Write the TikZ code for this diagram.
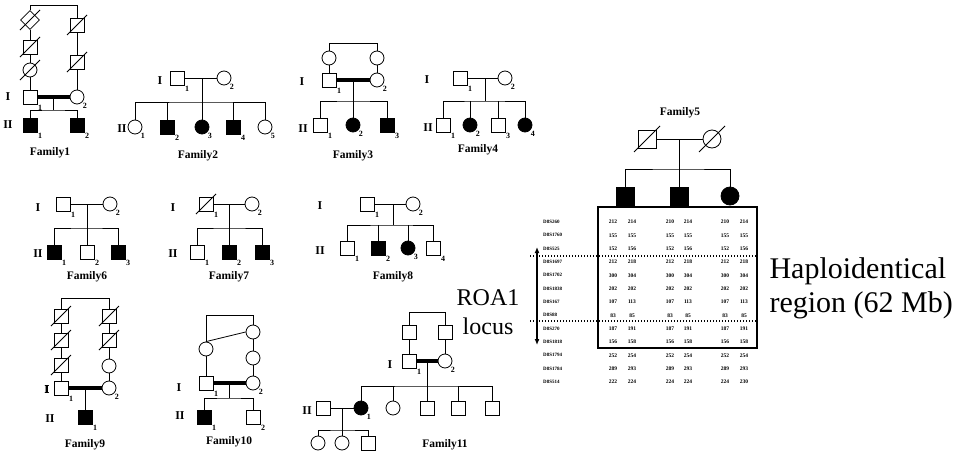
\documentclass[tikz,border=0pt]{standalone}
\usepackage{fontspec}
\setmainfont{Liberation Serif}
\usetikzlibrary{arrows.meta, shapes.geometric}

\newcommand\deadmark[2]{\draw[link] ([shift={(-#2,#2)}]#1.center) -- ([shift={(#2,-#2)}]#1.center);}

\begin{document}
\begin{tikzpicture}[
    x=1pt, y=-1pt,
    every node/.style={font=\bfseries\fontsize{12}{14}\selectfont},
    male/.style={rectangle, draw, minimum size=14pt, inner sep=0pt, line width=0.8pt},
    female/.style={circle, draw, minimum size=14pt, inner sep=0pt, line width=0.8pt},
    unkn/.style={diamond, draw, minimum size=19pt, inner sep=0pt, line width=0.8pt},
    big/.style={minimum size=18pt},
    aff/.style={fill=black},
    num/.style={label={[numlab]-45:#1}},
    numlab/.style={font=\bfseries\fontsize{8}{9}\selectfont, inner sep=0.5pt},
    gen/.style={font=\bfseries\fontsize{12}{14}\selectfont},
    fam/.style={font=\bfseries\fontsize{11.5}{13}\selectfont},
    link/.style={line width=0.8pt},
    consang/.style={line width=4pt},
    mk/.style={font=\bfseries\fontsize{5}{6}\selectfont, anchor=west, inner sep=0pt},
    al/.style={font=\bfseries\fontsize{5.5}{6}\selectfont, inner sep=0pt},
    note/.style={font=\fontsize{24}{29}\selectfont, align=center},
]
\useasboundingbox (0,0) rectangle (964,455);

% Family1
\node[unkn] (f1u1) at (30,20) {};
\node[male] (f1u2) at (30,47) {};
\node[female] (f1u3) at (30,70) {};
\node[male, num=1] (f1a) at (30,97) {};
\node[male] (f1v1) at (77,25) {};
\node[male] (f1v2) at (77,62) {};
\node[female, num=2] (f1b) at (77,97) {};
\node[male, aff, num=1] (f1c1) at (30,125) {};
\node[male, aff, num=2] (f1c2) at (77,125) {};
\coordinate (f1tl) at (30,5);
\coordinate (f1tr) at (77,5);
\coordinate (f1m) at (53,97);
\coordinate (f1s) at (53,110);
\draw[link] (f1u1) -- (f1tl) -- (f1tr) -- (f1v1);
\draw[link] (f1u1) -- (f1u2) -- (f1u3) -- (f1a);
\draw[link] (f1v1) -- (f1v2) -- (f1b);
\draw[consang] (f1a) -- (f1b);
\draw[link] (f1m) -- (f1s);
\draw[link] (f1c1) |- (f1s) -| (f1c2);
\deadmark{f1u1}{10}
\deadmark{f1u2}{10}
\deadmark{f1u3}{10}
\deadmark{f1v1}{10}
\deadmark{f1v2}{10}
\node[gen] (f1g1) at (8,97) {I};
\node[gen] (f1g2) at (8,125) {II};
\node[fam] (f1lab) at (50,153) {Family1};

% Family2
\node[male, num=1] (f2a) at (177,78) {};
\node[female, num=2] (f2b) at (224,78) {};
\node[female, num=1] (f2c1) at (135,127) {};
\node[male, aff, num=2] (f2c2) at (167,127) {};
\node[female, aff, num=3] (f2c3) at (202,127) {};
\node[male, aff, num=4] (f2c4) at (233,127) {};
\node[female, num=5] (f2c5) at (265,127) {};
\coordinate (f2m) at (202,78);
\coordinate (f2s) at (202,102);
\draw[link] (f2a) -- (f2b);
\draw[link] (f2m) -- (f2s);
\draw[link] (f2c1) |- (f2s) -| (f2c5);
\foreach \k in {2,3,4} \draw[link] (f2c\k) -- (f2c\k |- f2s);
\node[gen] (f2g1) at (160,81) {I};
\node[gen] (f2g2) at (122,129) {II};
\node[fam] (f2lab) at (198,156) {Family2};

% Family3
\node[female] (f3u) at (329,58) {};
\node[female] (f3v) at (377,58) {};
\node[male, num=1] (f3a) at (329,80) {};
\node[female, num=2] (f3b) at (377,80) {};
\node[male, num=1] (f3c1) at (320,125) {};
\node[female, aff, num=2] (f3c2) at (353,125) {};
\node[male, aff, num=3] (f3c3) at (387,125) {};
\coordinate (f3tl) at (329,43);
\coordinate (f3tr) at (377,43);
\coordinate (f3m) at (353,80);
\coordinate (f3s) at (353,101);
\draw[link] (f3u) -- (f3tl) -- (f3tr) -- (f3v);
\draw[link] (f3u) -- (f3a);
\draw[link] (f3v) -- (f3b);
\draw[consang] (f3a) -- (f3b);
\draw[link] (f3m) -- (f3s);
\draw[link] (f3c1) |- (f3s) -| (f3c3);
\draw[link] (f3c2) -- (f3c2 |- f3s);
\node[gen] (f3g1) at (302,82) {I};
\node[gen] (f3g2) at (303,129) {II};
\node[fam] (f3lab) at (353,156) {Family3};

% Family4
\node[male, num=1] (f4a) at (460,78) {};
\node[female, num=2] (f4b) at (505,78) {};
\node[male, num=1] (f4c1) at (443,125) {};
\node[female, aff, num=2] (f4c2) at (470,125) {};
\node[male, num=3] (f4c3) at (498,125) {};
\node[female, aff, num=4] (f4c4) at (525,125) {};
\coordinate (f4m) at (485,78);
\coordinate (f4s) at (485,101);
\draw[link] (f4a) -- (f4b);
\draw[link] (f4m) -- (f4s);
\draw[link] (f4c1) |- (f4s) -| (f4c4);
\foreach \k in {2,3} \draw[link] (f4c\k) -- (f4c\k |- f4s);
\node[gen] (f4g1) at (427,80) {I};
\node[gen] (f4g2) at (428,128) {II};
\node[fam] (f4lab) at (478,150) {Family4};

% Family6
\node[male, num=1] (f6a) at (63,204) {};
\node[female, num=2] (f6b) at (110,204) {};
\node[male, aff, num=1] (f6c1) at (54,252) {};
\node[male, num=2] (f6c2) at (87,252) {};
\node[male, aff, num=3] (f6c3) at (118,252) {};
\coordinate (f6m) at (87,204);
\coordinate (f6s) at (87,228);
\draw[link] (f6a) -- (f6b);
\draw[link] (f6m) -- (f6c2);
\draw[link] (f6c1) |- (f6s) -| (f6c3);
\node[gen] (f6g1) at (38,208) {I};
\node[gen] (f6g2) at (38,254) {II};
\node[fam] (f6lab) at (87,277) {Family6};

% Family7
\node[male, num=1] (f7a) at (206,204) {};
\node[female, num=2] (f7b) at (252,204) {};
\node[male, num=1] (f7c1) at (197,252) {};
\node[male, aff, num=2] (f7c2) at (229,252) {};
\node[male, aff, num=3] (f7c3) at (262,252) {};
\coordinate (f7m) at (229,204);
\coordinate (f7s) at (229,228);
\draw[link] (f7a) -- (f7b);
\draw[link] (f7m) -- (f7c2);
\draw[link] (f7c1) |- (f7s) -| (f7c3);
\deadmark{f7a}{10}
\node[gen] (f7g1) at (173,208) {I};
\node[gen] (f7g2) at (173,254) {II};
\node[fam] (f7lab) at (229,277) {Family7};

% Family8
\node[male, num=1] (f8a) at (367,204) {};
\node[female, num=2] (f8b) at (413,204) {};
\node[male, num=1] (f8c1) at (347,248) {};
\node[male, aff, num=2] (f8c2) at (378,248) {};
\node[female, aff, num=3] (f8c3) at (408,248) {};
\node[male, num=4] (f8c4) at (433,248) {};
\coordinate (f8m) at (393,204);
\coordinate (f8s) at (393,225);
\draw[link] (f8a) -- (f8b);
\draw[link] (f8m) -- (f8s);
\draw[link] (f8c1) |- (f8s) -| (f8c4);
\foreach \k in {2,3} \draw[link] (f8c\k) -- (f8c\k |- f8s);
\node[gen] (f8g1) at (320,206) {I};
\node[gen] (f8g2) at (320,251) {II};
\node[fam] (f8lab) at (393,277) {Family8};

% Family9
\node[male] (f9u1) at (61,316) {};
\node[male] (f9u2) at (61,340) {};
\node[male] (f9u3) at (61,365) {};
\node[male, num=1] (f9a) at (61,388) {};
\node[male] (f9v1) at (109,316) {};
\node[male] (f9v2) at (109,340) {};
\node[female] (f9v3) at (109,366) {};
\node[female, num=2] (f9b) at (109,388) {};
\node[male, aff, num=1] (f9c1) at (85,417) {};
\coordinate (f9tl) at (61,298);
\coordinate (f9tr) at (109,298);
\coordinate (f9m) at (85,388);
\draw[link] (f9u1) -- (f9tl) -- (f9tr) -- (f9v1);
\draw[link] (f9u1) -- (f9u2) -- (f9u3) -- (f9a);
\draw[link] (f9v1) -- (f9v2) -- (f9v3) -- (f9b);
\draw[consang] (f9a) -- (f9b);
\draw[link] (f9m) -- (f9c1);
\foreach \k in {u1,u2,u3,v1,v2} \deadmark{f9\k}{10}
\node[gen] (f9g1) at (47,390) {I};
\node[gen] (f9g2) at (50,419) {II};
\node[fam] (f9lab) at (85,445) {Family9};

% Family10
\node[female] (f10u) at (206,349) {};
\node[female] (f10v1) at (253,332) {};
\node[female] (f10v2) at (253,358) {};
\node[male, num=1] (f10a) at (206,383) {};
\node[female, num=2] (f10b) at (253,383) {};
\node[male, aff, num=1] (f10c1) at (204,417) {};
\node[male, num=2] (f10c2) at (253,417) {};
\coordinate (f10tl) at (206,315);
\coordinate (f10tr) at (253,315);
\coordinate (f10m) at (229,383);
\coordinate (f10s) at (229,398);
\draw[link] (f10u) -- (f10tl) -- (f10tr) -- (f10v1);
\draw[link] (f10u.north) -- (f10v1.west);
\draw[link] (f10u) -- (f10a);
\draw[link] (f10v1) -- (f10v2) -- (f10b);
\draw[consang] (f10a) -- (f10b);
\draw[link] (f10m) -- (f10s);
\draw[link] (f10c1) |- (f10s) -| (f10c2);
\node[gen] (f10g1) at (179,388) {I};
\node[gen] (f10g2) at (180,416) {II};
\node[fam] (f10lab) at (229,442) {Family10};

% Family11
\node[male] (f11u) at (409,332) {};
\node[male] (f11v) at (445,332) {};
\node[male, num=1] (f11a) at (409,361) {};
\node[female, num=2] (f11b) at (445,361) {};
\node[female, aff, num=1] (f11c1) at (361,408) {};
\node[female] (f11c2) at (393,408) {};
\node[male] (f11c3) at (427,408) {};
\node[male] (f11c4) at (458,408) {};
\node[male] (f11c5) at (492,408) {};
\node[male] (f11p) at (323,408) {};
\node[female] (f11d1) at (318,443) {};
\node[female] (f11d2) at (342,443) {};
\node[male] (f11d3) at (368,443) {};
\coordinate (f11tl) at (409,312);
\coordinate (f11tr) at (445,312);
\coordinate (f11m) at (427,361);
\coordinate (f11s) at (427,386);
\coordinate (f11n) at (342,408);
\coordinate (f11t) at (342,430);
\draw[link] (f11u) -- (f11tl) -- (f11tr) -- (f11v);
\draw[link] (f11u) -- (f11a);
\draw[link] (f11v) -- (f11b);
\draw[consang] (f11a) -- (f11b);
\draw[link] (f11m) -- (f11c3);
\draw[link] (f11c1) |- (f11s) -| (f11c5);
\foreach \k in {2,4} \draw[link] (f11c\k) -- (f11c\k |- f11s);
\draw[link] (f11p) -- (f11c1);
\draw[link] (f11n) -- (f11d2);
\draw[link] (f11d1) |- (f11t) -| (f11d3);
\node[gen] (f11g1) at (390,365) {I};
\node[gen] (f11g2) at (307,411) {II};
\node[fam] (f11lab) at (445,445) {Family11};

% Family5 with haplotypes
\node[fam] (f5lab) at (680,113) {Family5};
\node[male, big] (f5a) at (647,139) {};
\node[female, big] (f5b) at (712,139) {};
\node[male, big, aff] (f5c1) at (625,196) {};
\node[male, big, aff] (f5c2) at (679,196) {};
\node[female, big, aff] (f5c3) at (730,196) {};
\coordinate (f5m) at (679,139);
\coordinate (f5s) at (679,169);
\draw[link] (f5a) -- (f5b);
\draw[link] (f5m) -- (f5c2);
\draw[link] (f5c1) |- (f5s) -| (f5c3);
\deadmark{f5a}{13}
\deadmark{f5b}{13}
\node[draw, line width=2.5pt, minimum width=159pt, minimum height=141pt,
    inner sep=0pt] (hbox) at (677.5,277.5) {};

\foreach \mk/\pa/\pb/\pc/\pd/\pe/\pf [count=\i from 0] in {
    D8S260/212/214/210/214/210/214, D8S1760/155/155/155/155/155/155,
    D8S525/152/156/152/156/152/156, D8S1697/212/218/212/218/212/218,
    D8S1702/300/304/300/304/300/304, D8S1838/202/202/202/202/202/202,
    D8S167/107/113/107/113/107/113, D8S88/83/85/83/85/83/85,
    D8S270/187/191/187/191/187/191, D8S1818/156/158/156/158/156/158,
    D8S1794/252/254/252/254/252/254, D8S1784/289/293/289/293/289/293,
    D8S514/222/224/224/224/224/230} {
  \node[mk] (mk\i) at (543,222+13.33*\i) {\mk};
  \node[al] (a\i) at (613,222+13.33*\i) {\pa};
  \node[al] (b\i) at (632,222+13.33*\i) {\pb};
  \node[al] (c\i) at (670,222+13.33*\i) {\pc};
  \node[al] (d\i) at (688,222+13.33*\i) {\pd};
  \node[al] (e\i) at (725,222+13.33*\i) {\pe};
  \node[al] (g\i) at (744,222+13.33*\i) {\pf};
}

% haploidentical region
\coordinate (dl1) at (530,256);
\coordinate (dr1) at (757,256);
\coordinate (dl2) at (530,321);
\coordinate (dr2) at (757,321);
\draw[line width=1.5pt, dash pattern=on 1.3pt off 1.7pt] (dl1) -- (dr1);
\draw[line width=1.5pt, dash pattern=on 1.3pt off 1.7pt] (dl2) -- (dr2);
\coordinate (roat) at (537,247);
\coordinate (roab) at (537,345);
\draw[line width=1.2pt, {Latex[length=6pt, width=5pt]}-{Latex[length=6pt, width=5pt]}] (roat) -- (roab);
\node[note] (roa) at (488,312) {ROA1\\locus};
\node[note, font=\fontsize{30}{34}\selectfont, align=left, anchor=west]
    (hap) at (766,288) {Haploidentical\\region (62 Mb)};

\end{tikzpicture}
\end{document}
